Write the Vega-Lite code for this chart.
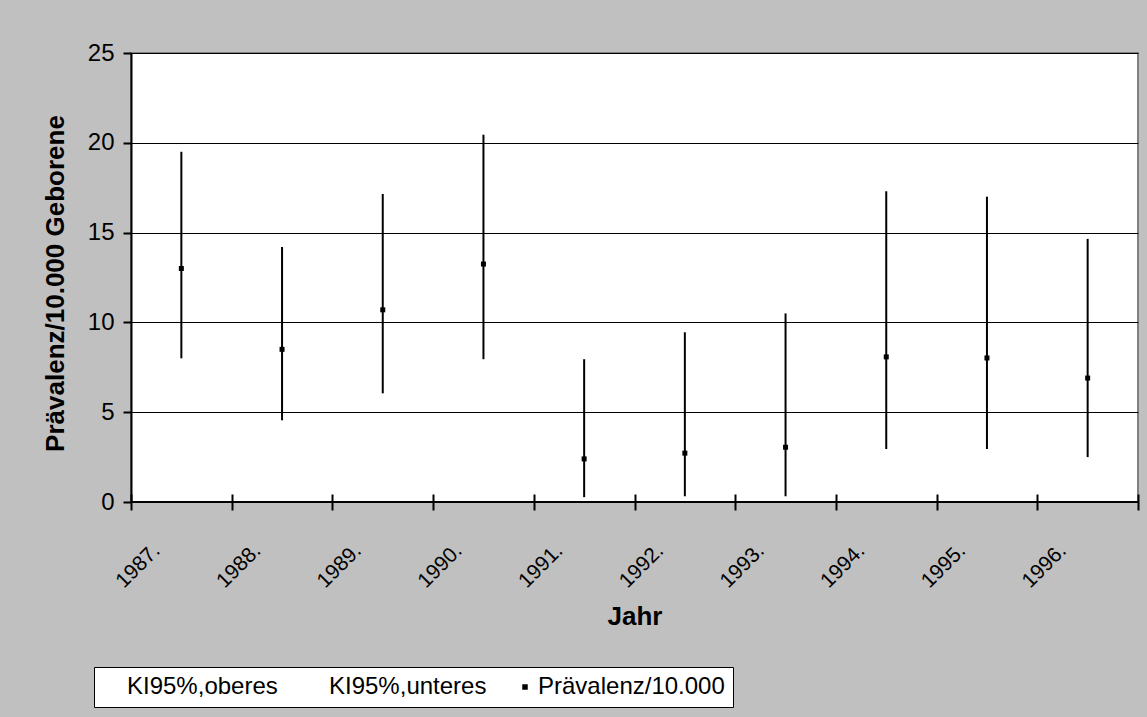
{
  "$schema": "https://vega.github.io/schema/vega-lite/v6.json",
  "width": 1007,
  "height": 449,
  "autosize": {"type": "none"},
  "padding": {"left": 131, "top": 53, "right": 9, "bottom": 215},
  "background": "#C0C0C0",
  "config": {
    "font": "Liberation Sans",
    "view": {"fill": "white", "stroke": "#808080", "strokeWidth": 2},
    "axis": {
      "labelFont": "Liberation Sans",
      "titleFont": "Liberation Sans",
      "labelColor": "black",
      "titleColor": "black",
      "labelFontSize": 24,
      "titleFontSize": 26,
      "titleFontWeight": "bold",
      "domainColor": "black",
      "tickColor": "black"
    }
  },
  "data": {
    "values": [
      {"Jahr": "1987.", "unteres": 8.0, "oberes": 19.5, "Praevalenz": 13.0},
      {"Jahr": "1988.", "unteres": 4.55, "oberes": 14.2, "Praevalenz": 8.5},
      {"Jahr": "1989.", "unteres": 6.05, "oberes": 17.15, "Praevalenz": 10.7},
      {"Jahr": "1990.", "unteres": 7.95, "oberes": 20.45, "Praevalenz": 13.25},
      {"Jahr": "1991.", "unteres": 0.27, "oberes": 7.95, "Praevalenz": 2.4},
      {"Jahr": "1992.", "unteres": 0.32, "oberes": 9.45, "Praevalenz": 2.72},
      {"Jahr": "1993.", "unteres": 0.32, "oberes": 10.5, "Praevalenz": 3.05},
      {"Jahr": "1994.", "unteres": 2.95, "oberes": 17.3, "Praevalenz": 8.08},
      {"Jahr": "1995.", "unteres": 2.95, "oberes": 17.0, "Praevalenz": 8.02},
      {"Jahr": "1996.", "unteres": 2.5, "oberes": 14.65, "Praevalenz": 6.9}
    ]
  },
  "layer": [
    {
      "mark": {"type": "rule", "color": "black", "strokeWidth": 2},
      "encoding": {
        "x": {
          "field": "Jahr",
          "type": "ordinal",
          "scale": {"paddingInner": 0, "paddingOuter": 0},
          "axis": {
            "title": "Jahr",
            "domain": false,
            "offset": -8,
            "tickBand": "extent",
            "tickSize": 16,
            "tickWidth": 2,
            "labelFontSize": 21,
            "labelAngle": -45,
            "labelAlign": "right",
            "labelBaseline": "middle",
            "labelOffset": -25,
            "labelPadding": 37,
            "titlePadding": 12
          }
        },
        "y": {
          "field": "unteres",
          "type": "quantitative",
          "scale": {"domain": [0, 25], "nice": false},
          "axis": {
            "title": "Prävalenz/10.000 Geborene",
            "values": [0, 5, 10, 15, 20, 25],
            "grid": true,
            "gridColor": "black",
            "gridWidth": 1,
            "gridOpacity": 1,
            "domainWidth": 2,
            "tickSize": 8,
            "tickWidth": 2,
            "labelPadding": 9,
            "titlePadding": 19,
            "titleY": 230
          }
        },
        "y2": {"field": "oberes"}
      }
    },
    {
      "mark": {"type": "point", "shape": "square", "filled": true, "size": 25, "opacity": 1},
      "encoding": {
        "x": {"field": "Jahr", "type": "ordinal"},
        "y": {"field": "Praevalenz", "type": "quantitative"},
        "color": {
          "datum": "Prävalenz/10.000",
          "type": "nominal",
          "scale": {
            "domain": ["KI95%,oberes", "KI95%,unteres", "Prävalenz/10.000"],
            "range": ["transparent", "transparent", "black"]
          },
          "legend": {
            "title": null,
            "orient": "none",
            "legendX": -37,
            "legendY": 614,
            "direction": "horizontal",
            "fillColor": "white",
            "strokeColor": "black",
            "padding": 8,
            "labelFont": "Liberation Sans",
            "labelFontSize": 24,
            "labelColor": "black",
            "labelLimit": 400,
            "labelOffset": 1,
            "columnPadding": 26,
            "symbolType": "square",
            "symbolSize": 30,
            "symbolStrokeWidth": 0
          }
        }
      }
    },
    {
      "mark": {"type": "rule", "color": "black", "strokeWidth": 2},
      "encoding": {"y": {"datum": 0}}
    }
  ]
}
